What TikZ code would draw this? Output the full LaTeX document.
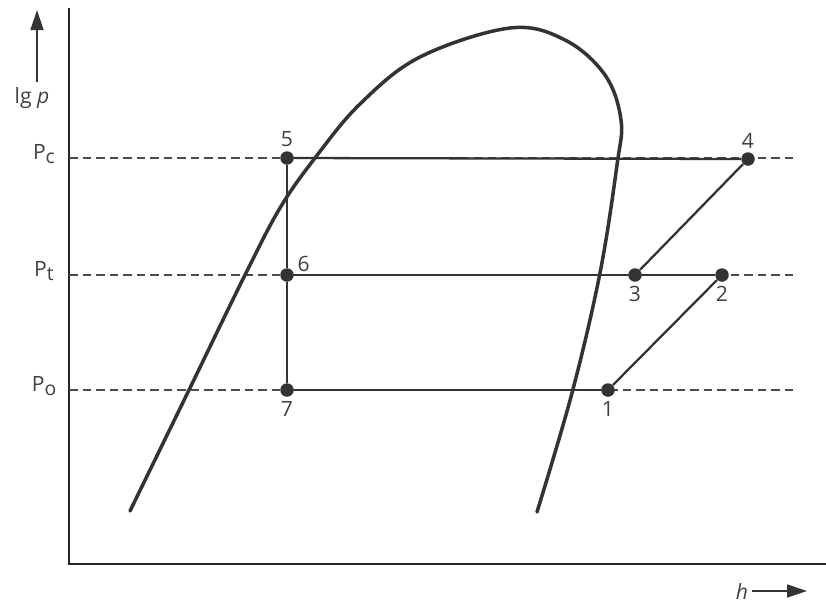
\documentclass[tikz,border=0pt]{standalone}
\usepackage{fontspec}
\setmainfont{Open Sans}
\usetikzlibrary{arrows.meta,positioning}

\newcommand{\lowsub}[1]{{\fontsize{11}{12}\selectfont\raisebox{-0.4ex}{#1}}}

\begin{document}
\begin{tikzpicture}[
  x=0.2mm, y=-0.2mm,
  font=\fontsize{12}{14}\selectfont,
  state/.style={circle, fill=black!80, inner sep=0pt, minimum size=2.7mm},
  lbl/.style={inner sep=1pt, text=black!75},
  iso/.style={black!70, line width=0.8pt, dash pattern=on 1.7mm off 1mm},
  cyc/.style={black!80, line width=1.3pt},
  dome/.style={black!80, line width=2pt, line cap=round},
  ax/.style={black!85, line width=1.1pt},
  a/.style={-{Triangle[length=4mm, width=2.6mm]}, black!80, line width=0.8pt}]
\useasboundingbox (0,0) rectangle (826,605);
% axes
\coordinate (top) at (69,8);
\coordinate (origin) at (69,564);
\coordinate (right) at (826,564);
\draw[ax] (top) -- (origin) -- (right);
\coordinate (pfoot) at (37,82);
\coordinate (phead) at (37,10);
\draw[a] (pfoot) -- (phead);
\node[lbl] (lgp) at (32,98) {lg \textit{p}};
\coordinate (htail) at (752,591);
\coordinate (hhead) at (807,591);
\draw[a] (htail) -- (hhead);
\node[lbl, left=1pt of htail] (hlab) {\textit{h}};
% pressure levels
\coordinate (pc-l) at (69,158);
\coordinate (pc-r) at (793,158);
\coordinate (pt-l) at (69,275);
\coordinate (pt-r) at (793,275);
\coordinate (po-l) at (69,390);
\coordinate (po-r) at (793,390);
\draw[iso] (pc-l) -- (pc-r);
\draw[iso] (pt-l) -- (pt-r);
\draw[iso] (po-l) -- (po-r);
\node[lbl] (pc) at (44,154) {P\lowsub{c}};
\node[lbl] (pt) at (44,271) {P\lowsub{t}};
\node[lbl] (po) at (44,386) {P\lowsub{o}};
% saturation curve
\draw[dome] plot[smooth, tension=0.6] coordinates {(130,511) (189,390) (245,275)
  (280,208) (315,158) (360,104) (420,57) (510,28) (565,40) (605,75)
  (621,120) (617,165) (600,273) (572,393) (537,512)};
% cycle
\node[state] (s1) at (608,390) {};
\node[state] (s2) at (722,275) {};
\node[state] (s3) at (635,275) {};
\node[state] (s4) at (748,159) {};
\node[state] (s5) at (287,158) {};
\node[state] (s6) at (287,275) {};
\node[state] (s7) at (287,390) {};
\draw[cyc] (s1) -- (s2);
\draw[cyc] (s6) -- (s3) -- (s2);
\draw[cyc] (s3) -- (s4);
\draw[cyc] (s4) -- (s5);
\draw[cyc] (s5) -- (s6) -- (s7);
\draw[cyc] (s7) -- (s1);
\node[lbl, above=1pt of s5] (n5) {5};
\node[lbl, above right=-2pt and 2pt of s6] (n6) {6};
\node[lbl, below=1pt of s7] (n7) {7};
\node[lbl, above=1pt of s4] (n4) {4};
\node[lbl, below=1pt of s3] (n3) {3};
\node[lbl, below=1pt of s2] (n2) {2};
\node[lbl, below=1pt of s1] (n1) {1};
\end{tikzpicture}
\end{document}
